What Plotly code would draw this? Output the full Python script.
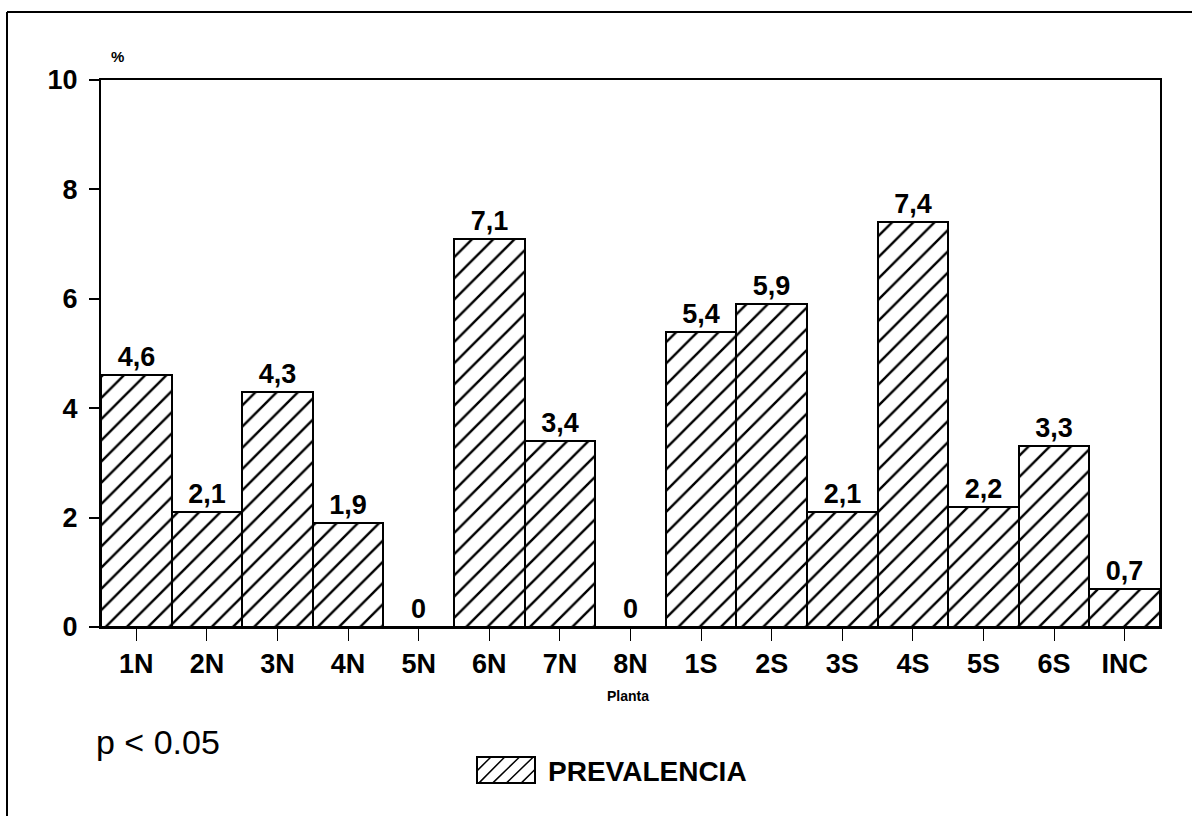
import plotly.graph_objects as go

categories = ["1N", "2N", "3N", "4N", "5N", "6N", "7N", "8N",
              "1S", "2S", "3S", "4S", "5S", "6S", "INC"]
prevalencia = [4.6, 2.1, 4.3, 1.9, 0, 7.1, 3.4, 0,
               5.4, 5.9, 2.1, 7.4, 2.2, 3.3, 0.7]
y_ticks = [0, 2, 4, 6, 8, 10]
series_name = "PREVALENCIA"

labels = [("%g" % v).replace(".", ",") for v in prevalencia]

FONT = "Liberation Sans, Arial, Helvetica, sans-serif"
W, H = 1195, 816
L, R, T, B = 101, 35, 80, 189

pw = W - L - R
ph = H - T - B
def px(x):
    return (x - L) / pw
def py(y):
    return (H - B - y) / ph

fig = go.Figure()
fig.add_trace(go.Bar(
    x=categories, y=prevalencia, name=series_name,
    text=labels, textposition="outside", cliponaxis=False,
    textfont=dict(family=FONT, size=27, color="black", weight="bold"),
    marker=dict(color="white",
                line=dict(color="black", width=2),
                pattern=dict(shape="/", fgcolor="black", bgcolor="white",
                             size=15, solidity=0.16, fgopacity=1)),
    width=1.0,
    showlegend=False,
))

# legend swatch (hatched rectangle) drawn as a path
sx0, sx1, sy0, sy1 = 477, 535, 757, 783
hatch = []
step = 14
k = sx0 - (sy1 - sy0)
while k < sx1:
    h = sy1 - sy0
    xa, ya = k, sy1
    xb, yb = k + h, sy0
    if xa < sx0:
        ya = sy1 - (sx0 - xa)
        xa = sx0
    if xb > sx1:
        yb = sy0 + (xb - sx1)
        xb = sx1
    if xb > xa:
        hatch.append("M%.3f,%.3f L%.3f,%.3f" % (px(xa), py(ya), px(xb), py(yb)))
    k += step

fig.update_layout(
    width=W, height=H,
    margin=dict(l=L, r=R, t=T, b=B),
    paper_bgcolor="white", plot_bgcolor="white",
    bargap=0,
    font=dict(family=FONT, color="black"),
    showlegend=False,
    xaxis=dict(type="category", showgrid=False, showline=True,
               linecolor="black", linewidth=2, mirror=True,
               ticks="outside", ticklen=12, tickwidth=1, tickcolor="black",
               tickfont=dict(family=FONT, size=27, color="black", weight="bold"),
               range=[-0.5, len(categories) - 0.5]),
    yaxis=dict(range=[0, 10], tickvals=y_ticks, showgrid=False,
               showline=True, linecolor="black", linewidth=2, mirror=True,
               ticks="outside", ticklen=10, tickwidth=2, tickcolor="black",
               ticklabelstandoff=6,
               tickfont=dict(family=FONT, size=27, color="black", weight="bold"),
               zeroline=False),
    annotations=[
        dict(text="%", xref="paper", yref="paper", x=px(109), y=py(57),
             yanchor="middle", showarrow=False,
             font=dict(family=FONT, size=15, weight="bold")),
        dict(text="Planta", xref="paper", yref="paper", x=px(628), y=py(696),
             yanchor="middle", showarrow=False,
             font=dict(family=FONT, size=14, weight="bold")),
        dict(text="p &lt; 0.05", xref="paper", yref="paper", x=px(94), y=py(742),
             xanchor="left", yanchor="middle", showarrow=False,
             font=dict(family=FONT, size=34)),
        dict(text=series_name, xref="paper", yref="paper", x=px(546), y=py(771),
             xanchor="left", yanchor="middle", showarrow=False,
             font=dict(family=FONT, size=28, weight="bold")),
    ],
    shapes=[
        dict(type="line", xref="paper", yref="paper", x0=px(7), x1=px(7),
             y0=py(12), y1=py(816), line=dict(color="black", width=2)),
        dict(type="line", xref="paper", yref="paper", x0=px(7), x1=px(1192),
             y0=py(12), y1=py(12), line=dict(color="black", width=2)),
        dict(type="rect", xref="paper", yref="paper", x0=px(sx0), x1=px(sx1),
             y0=py(sy1), y1=py(sy0), line=dict(color="black", width=2),
             fillcolor="white", layer="below"),
        dict(type="path", xref="paper", yref="paper", path=" ".join(hatch),
             line=dict(color="black", width=1.5)),
    ],
)

fig.write_html("out.html", config={"displayModeBar": False},
               post_script="document.body.style.margin='0px';document.body.style.overflow='hidden';")
